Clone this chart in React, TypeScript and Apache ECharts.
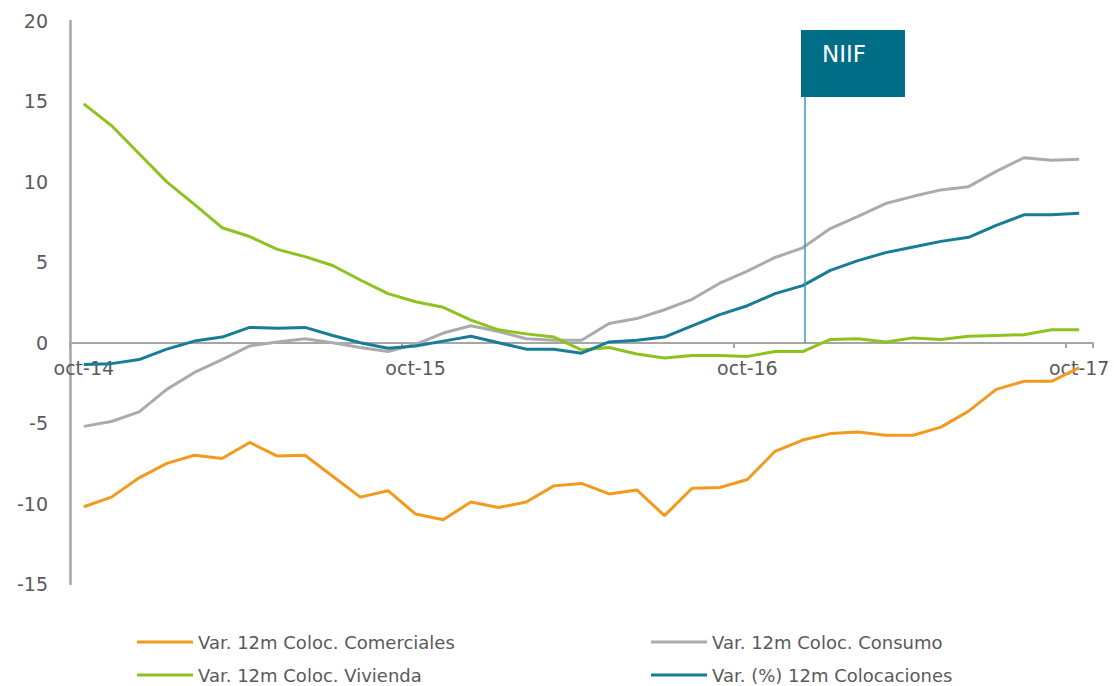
import React, { useEffect, useRef } from "react";
import * as echarts from "echarts";

const categories = [
  "oct-14", "nov-14", "dic-14", "ene-15", "feb-15", "mar-15", "abr-15", "may-15", "jun-15", "jul-15", "ago-15", "sep-15",
  "oct-15", "nov-15", "dic-15", "ene-16", "feb-16", "mar-16", "abr-16", "may-16", "jun-16", "jul-16", "ago-16", "sep-16",
  "oct-16", "nov-16", "dic-16", "ene-17", "feb-17", "mar-17", "abr-17", "may-17", "jun-17", "jul-17", "ago-17", "sep-17",
  "oct-17",
];

const comerciales = [
  -10.2, -9.6, -8.4, -7.5, -7.0, -7.2, -6.2, -7.05, -7.0, -8.3, -9.6, -9.2,
  -10.65, -11.0, -9.9, -10.25, -9.9, -8.9, -8.75, -9.4, -9.15, -10.75, -9.05, -9.0,
  -8.5, -6.75, -6.05, -5.65, -5.55, -5.75, -5.75, -5.25, -4.25, -2.9, -2.4, -2.4, -1.55,
];

const consumo = [
  -5.2, -4.9, -4.3, -2.9, -1.85, -1.05, -0.2, 0.05, 0.25, 0.0, -0.3, -0.55,
  -0.1, 0.6, 1.05, 0.7, 0.25, 0.15, 0.15, 1.2, 1.5, 2.05, 2.7, 3.7,
  4.45, 5.3, 5.9, 7.1, 7.85, 8.65, 9.1, 9.5, 9.7, 10.65, 11.5, 11.35, 11.4,
];

const vivienda = [
  14.85, 13.5, 11.75, 10.0, 8.6, 7.15, 6.6, 5.8, 5.35, 4.8, 3.9, 3.05,
  2.55, 2.2, 1.4, 0.8, 0.55, 0.35, -0.45, -0.3, -0.7, -0.95, -0.8, -0.8,
  -0.85, -0.55, -0.55, 0.2, 0.25, 0.05, 0.3, 0.2, 0.4, 0.45, 0.5, 0.8, 0.8,
];

const colocaciones = [
  -1.35, -1.3, -1.05, -0.4, 0.1, 0.35, 0.95, 0.9, 0.95, 0.45, 0.0, -0.35,
  -0.2, 0.1, 0.4, 0.0, -0.4, -0.4, -0.65, 0.05, 0.15, 0.35, 1.05, 1.75,
  2.3, 3.05, 3.55, 4.5, 5.1, 5.6, 5.95, 6.3, 6.55, 7.3, 7.95, 7.95, 8.05,
];

const seriesNames = [
  "Var. 12m Coloc. Comerciales",
  "Var. 12m Coloc. Consumo",
  "Var. 12m Coloc. Vivienda",
  "Var. (%) 12m Colocaciones",
];
const seriesColors = ["#F39A1E", "#ABABAB", "#8DC21F", "#177C96"];
const seriesData = [comerciales, consumo, vivienda, colocaciones];

const FONT = "DejaVu Sans";
const TEXT_COLOR = "#5A5A5A";
const AXIS_COLOR = "#A6A6A6";

// legend slot positions (left, top) for each series
const legendLeft = [137, 651, 137, 651];
const legendTop = [633, 633, 666, 666];

export default function App() {
  const ref = useRef<HTMLDivElement>(null);

  useEffect(() => {
    if (!ref.current) return;
    const chart = echarts.init(ref.current, undefined, { renderer: "svg" });
    const legendText = { fontFamily: FONT, fontSize: 18, color: TEXT_COLOR };
    chart.setOption({
      animation: false,
      backgroundColor: "#ffffff",
      grid: { left: 70, right: 21, top: 21, bottom: 102, containLabel: false },
      legend: seriesNames.map((name, i) => ({
        data: [name],
        orient: "horizontal",
        left: legendLeft[i],
        top: legendTop[i],
        padding: 0,
        icon: "rect",
        itemWidth: 56,
        itemHeight: 3,
        textStyle: legendText,
      })),
      xAxis: {
        type: "category",
        data: categories,
        boundaryGap: true,
        offset: -241,
        axisLine: { onZero: false, lineStyle: { color: AXIS_COLOR, width: 2 } },
        axisTick: { show: true, interval: 11, length: 5, lineStyle: { color: AXIS_COLOR, width: 2 } },
        axisLabel: { interval: 11, margin: 15, fontFamily: FONT, fontSize: 19, color: TEXT_COLOR },
        splitLine: { show: false },
      },
      yAxis: {
        type: "value",
        min: -15,
        max: 20,
        interval: 5,
        axisLine: { show: true, lineStyle: { color: AXIS_COLOR, width: 2.5 } },
        axisTick: { show: false },
        axisLabel: { margin: 22, fontFamily: FONT, fontSize: 19, color: TEXT_COLOR },
        splitLine: { show: false },
      },
      series: seriesNames.map((name, i) => ({
        name,
        type: "line",
        data: seriesData[i],
        symbol: "none",
        showSymbol: false,
        color: seriesColors[i],
        lineStyle: { width: 3, color: seriesColors[i] },
        z: 3,
      })),
      graphic: [
        {
          type: "line",
          shape: { x1: 805, y1: 96, x2: 805, y2: 343 },
          style: { stroke: "#3E9BB3", lineWidth: 1.5 },
          z: 10,
        },
        {
          type: "rect",
          shape: { x: 801, y: 30, width: 104, height: 67 },
          style: { fill: "#006E87" },
          z: 10,
        },
        {
          type: "text",
          x: 822,
          y: 54,
          style: {
            text: "NIIF",
            fill: "#ffffff",
            fontFamily: FONT,
            fontSize: 23,
            verticalAlign: "middle",
            align: "left",
          },
          z: 11,
        },
      ],
    });
    return () => chart.dispose();
  }, []);

  return (
    <div
      ref={ref}
      style={{ position: "fixed", left: 0, top: 0, width: 1114, height: 686, background: "#fff" }}
    />
  );
}
